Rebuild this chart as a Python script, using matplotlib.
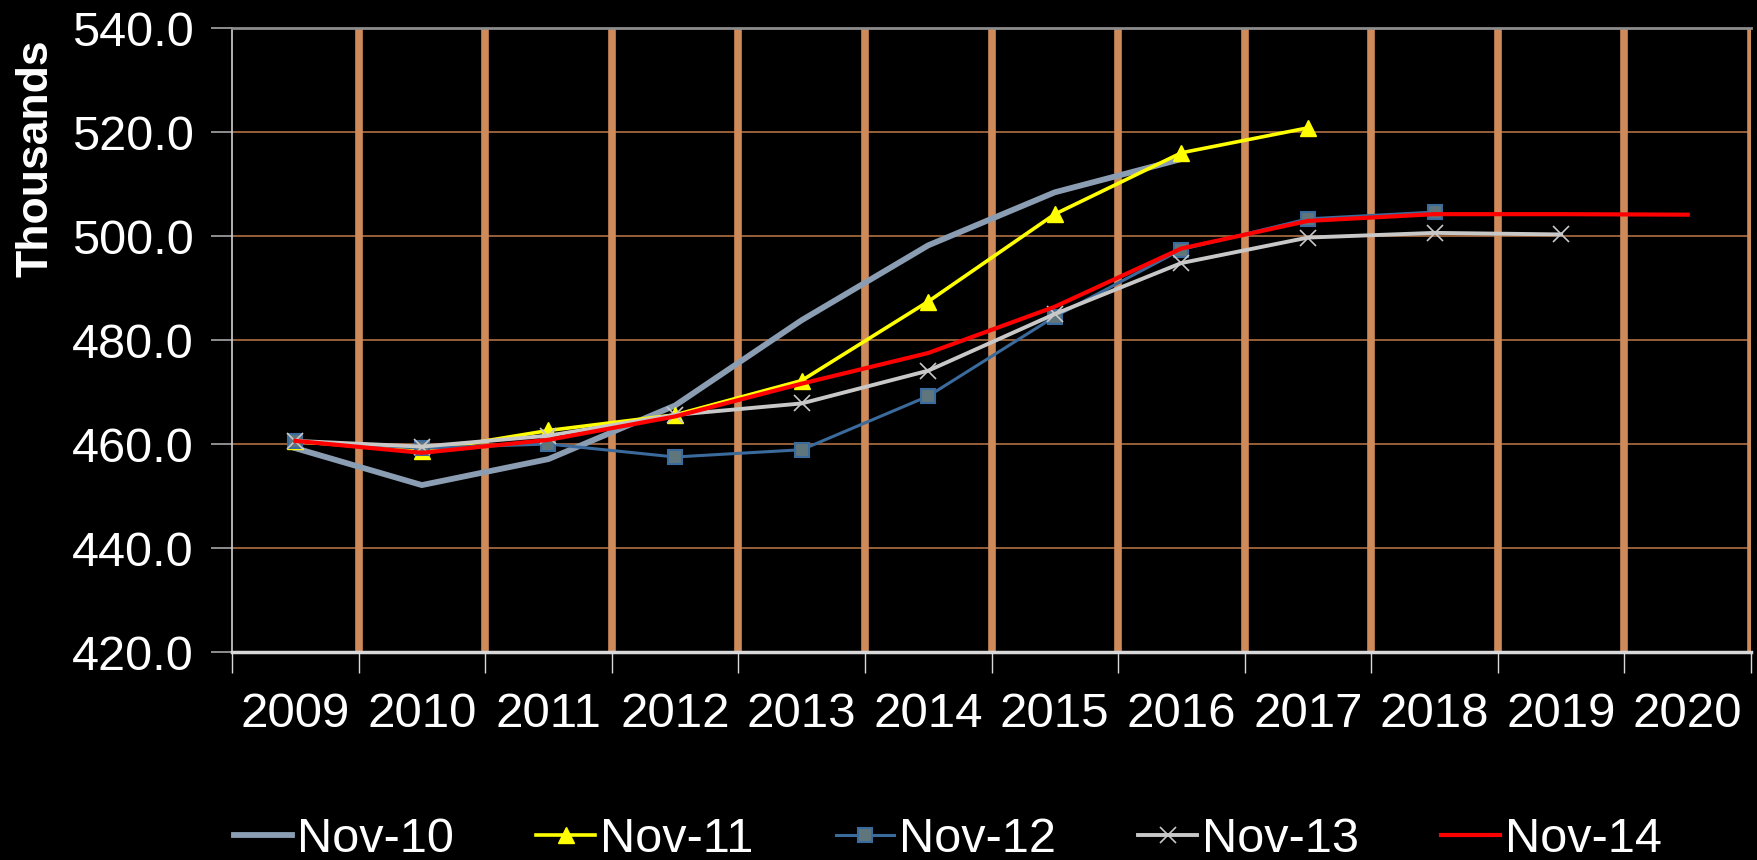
import numpy as np
import matplotlib
matplotlib.use('Agg')
import matplotlib.pyplot as plt
from matplotlib.ticker import FixedLocator, NullFormatter, FixedFormatter

plt.rcParams['font.family'] = ['Liberation Sans', 'DejaVu Sans']

years = ['2009', '2010', '2011', '2012', '2013', '2014',
         '2015', '2016', '2017', '2018', '2019', '2020']

# forecast vintages (thousands)
nov10 = [459.2, 452.1, 457.1, 467.4, 483.8, 498.2, 508.4, 514.8]
nov11 = [460.5, 458.6, 462.6, 465.6, 472.2, 487.4, 504.2, 516.0, 520.8]
nov12 = [460.6, 459.2, 460.0, 457.5, 458.9, 469.2, 484.5, 497.4, 503.3, 504.6]
nov13 = [460.6, 459.5, 461.6, 465.6, 467.8, 474.1, 485.0, 494.8, 499.7, 500.6, 500.3]
nov14 = [460.6, 458.3, 460.8, 465.3, 471.6, 477.5, 486.4, 497.6, 502.9, 504.2, 504.2, 504.1]

fig = plt.figure(figsize=(17.58, 8.60), dpi=100, facecolor='black')
ax = fig.add_axes([232 / 1758, 1 - 652 / 860, (1751 - 232) / 1758, 624 / 860])
ax.set_facecolor('black')

x = np.arange(len(years))

# horizontal gridlines
for yv in [440, 460, 480, 500, 520]:
    ax.axhline(yv, color='#a0683f', lw=1.3, zorder=1)

# orange vertical bars at category boundaries
ax.vlines(np.arange(0.5, 12), 420, 540, color='#cf8a5a', lw=5.5,
          capstyle='round', zorder=2)

ax.plot(x[:len(nov10)], nov10, color='#8a9db2', lw=4.2, label='Nov-10', zorder=3)
ax.plot(x[:len(nov11)], nov11, color='#ffff00', lw=2.6, marker='^',
        markersize=11, label='Nov-11', zorder=4)
ax.plot(x[:len(nov12)], nov12, color='#3b6a9c', lw=2.2, marker='s',
        markersize=10, markerfacecolor='#5f767d', markeredgecolor='#3b6a9c',
        markeredgewidth=1.5, label='Nov-12', zorder=5)
ax.plot(x[:len(nov13)], nov13, color='#c8c8c8', lw=2.8, marker='x',
        markersize=11, markeredgewidth=1.2, label='Nov-13', zorder=6)
ax.plot(x[:len(nov14)], nov14, color='#ff0000', lw=3.0, label='Nov-14', zorder=7)

ax.set_xlim(-0.5, 11.5)
ax.set_ylim(420, 540)

ax.xaxis.set_major_locator(FixedLocator(np.arange(-0.5, 12)))
ax.xaxis.set_major_formatter(NullFormatter())
ax.xaxis.set_minor_locator(FixedLocator(x))
ax.xaxis.set_minor_formatter(FixedFormatter(years))
ax.tick_params(axis='x', which='major', length=15, width=1, color='#d9d9d9',
               direction='out')
ax.tick_params(axis='x', which='minor', length=0, pad=29, labelsize=35.5,
               labelcolor='white')

ax.set_yticks(np.arange(420, 541, 20))
ax.set_yticklabels(['%.1f' % v for v in np.arange(420, 541, 20)])
ax.tick_params(axis='y', length=15, width=1.2, color='#a6a6a6', pad=12.5,
               labelsize=35, labelcolor='white')

ax.spines['top'].set_color('#8c8c8c')
ax.spines['top'].set_linewidth(2)
ax.spines['right'].set_visible(False)
ax.spines['left'].set_color('#d0d0d0')
ax.spines['left'].set_linewidth(1.2)
ax.spines['bottom'].set_color('#d9d9d9')
ax.spines['bottom'].set_linewidth(2.5)

fig.text(36 / 1758, 1 - 158 / 860, 'Thousands', rotation=90, color='white',
         fontsize=32, fontweight='bold', ha='center', va='center')

leg = fig.legend(loc='center', bbox_to_anchor=(0.539, 1 - 840 / 860), ncol=5,
                 frameon=False, fontsize=35, handlelength=1.2,
                 handletextpad=0.1, columnspacing=1.7, labelcolor='white')

fig.savefig('out.png', dpi=100, facecolor='black')
